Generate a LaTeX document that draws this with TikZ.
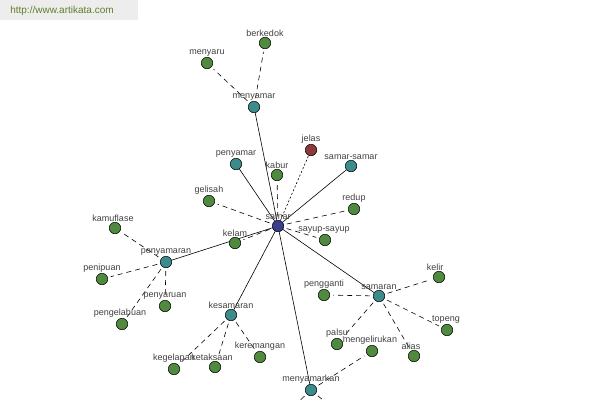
\documentclass[tikz,border=0pt]{standalone}
\usepackage{fontspec}
\setmainfont{Liberation Sans}
\usetikzlibrary{backgrounds}
\definecolor{leaf}{HTML}{4F8A3F}
\definecolor{teal2}{HTML}{3C8C8C}
\definecolor{navy2}{HTML}{3C3C8E}
\definecolor{rust}{HTML}{8E3A3A}
\definecolor{olive2}{HTML}{5F7F2A}

\begin{document}
\begin{tikzpicture}[x=1pt,y=-1pt,
    every label/.style={font=\fontsize{9}{10}\selectfont,text=black!75,inner sep=0.5pt},
    word/.style={circle,draw,line width=0.5pt,fill=leaf,minimum size=11.5pt,inner sep=0pt},
    hub/.style={word,fill=teal2},
    root/.style={word,fill=navy2},
    anto/.style={word,fill=rust},
    strong/.style={line width=0.6pt},
    weak/.style={line width=0.6pt,dash pattern=on 5pt off 4pt,shorten <=3pt,shorten >=3pt},
    opp/.style={line width=0.6pt,dash pattern=on 2pt off 2pt}]
        \clip (0,0) rectangle (600,400);
        \fill [black!7] (0,0) rectangle (138,20);
        \node (site) [font=\fontsize{10}{11}\selectfont,text=olive2] at (62,11) {http://www.artikata.com};
        % center
        \node (samar) [root,label=above:samar] at (278,226) {};
        % first ring
        \node (menyamar) [hub,label=above:menyamar] at (254,107) {};
        \node (penyamar) [hub,label=above:penyamar] at (236,164) {};
        \node (kabur) [word,label=above:kabur] at (277,175) {};
        \node (jelas) [anto,label=above:jelas] at (311,150) {};
        \node (samarsamar) [hub,label=above:samar-samar] at (351,166) {};
        \node (gelisah) [word,label=above:gelisah] at (209,201) {};
        \node (redup) [word,label=above:redup] at (354,209) {};
        \node (sayup) [word,label={[xshift=-1pt]above:sayup-sayup}] at (325,240) {};
        \node (kelam) [word,label=above:kelam] at (235,243) {};
        \node (penyamaran) [hub,label=above:penyamaran] at (166,262) {};
        \node (kesamaran) [hub,label=above:kesamaran] at (231,315) {};
        \node (samaran) [hub,label=above:samaran] at (379,296) {};
        \node (menyamarkan) [hub,label=above:menyamarkan] at (311,390) {};
        % around menyamar
        \node (berkedok) [word,label=above:berkedok] at (265,43) {};
        \node (menyaru) [word,label=above:menyaru] at (207,63) {};
        % around penyamaran
        \node (kamuflase) [word,label={[xshift=-2pt]above:kamuflase}] at (115,228) {};
        \node (penipuan) [word,label=above:penipuan] at (102,279) {};
        \node (penyaruan) [word,label=above:penyaruan] at (165,306) {};
        \node (pengelabuan) [word,label={[xshift=-2pt]above:pengelabuan}] at (122,324) {};
        % around kesamaran
        \node (kegelapan) [word,label=above:kegelapan] at (174,369) {};
        \node (ketaksaan) [word,label={[xshift=-3pt]above:ketaksaan}] at (215,367) {};
        \node (keremangan) [word,label=above:keremangan] at (260,357) {};
        % around samaran
        \node (pengganti) [word,label=above:pengganti] at (324,295) {};
        \node (kelir) [word,label={[xshift=-4pt]above:kelir}] at (439,277) {};
        \node (topeng) [word,label={[xshift=-1pt]above:topeng}] at (447,330) {};
        \node (palsu) [word,label=above:palsu] at (337,344) {};
        \node (mengelirukan) [word,label={[xshift=-2pt]above:mengelirukan}] at (372,351) {};
        \node (alias) [word,label={[xshift=-3pt]above:alias}] at (414,356) {};
        % leaving the frame
        \coordinate (offa) at (294,406);
        \coordinate (offb) at (330,406);
        \begin{scope}[on background layer]
        \draw [strong] (samar)--(menyamar);
        \draw [strong] (samar)--(penyamar);
        \draw [strong] (samar)--(samarsamar);
        \draw [strong] (samar)--(penyamaran);
        \draw [strong] (samar)--(kesamaran);
        \draw [strong] (samar)--(samaran);
        \draw [strong] (samar)--(menyamarkan);
        \draw [opp] (samar)--(jelas);
        \foreach \w in {kabur,gelisah,redup,sayup,kelam}
            \draw [weak] (samar)--(\w);
        \foreach \w in {berkedok,menyaru}
            \draw [weak] (menyamar)--(\w);
        \foreach \w in {kamuflase,penipuan,penyaruan,pengelabuan}
            \draw [weak] (penyamaran)--(\w);
        \foreach \w in {kegelapan,ketaksaan,keremangan}
            \draw [weak] (kesamaran)--(\w);
        \foreach \w in {pengganti,kelir,topeng,palsu,alias}
            \draw [weak] (samaran)--(\w);
        \foreach \w in {mengelirukan,offa,offb}
            \draw [weak] (menyamarkan)--(\w);
        \end{scope}
      \end{tikzpicture}
\end{document}
